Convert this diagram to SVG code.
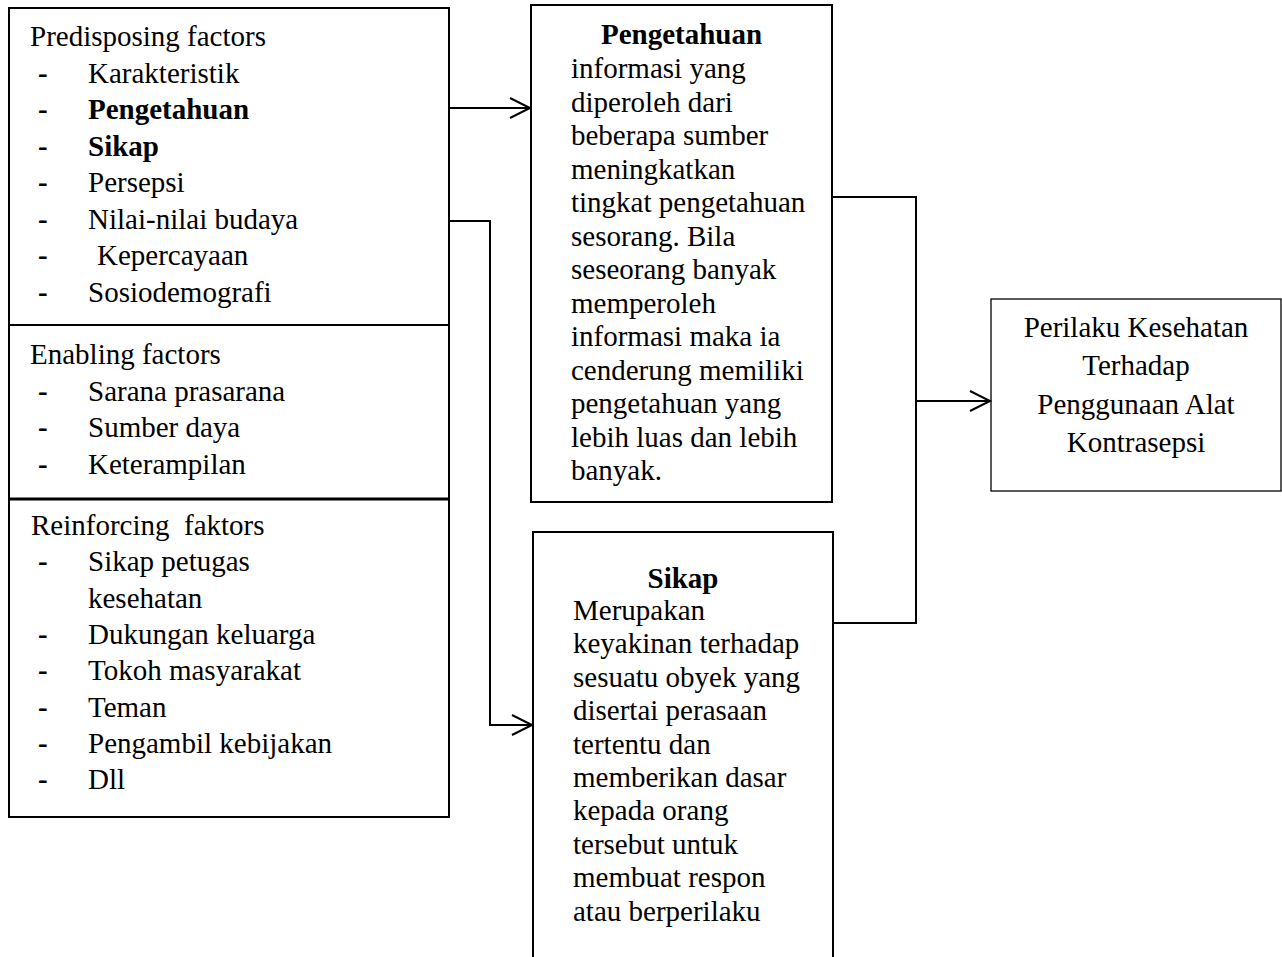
<svg xmlns="http://www.w3.org/2000/svg" width="1282" height="957" viewBox="0 0 1282 957">
<style>
text{font-family:"Liberation Serif","Times New Roman",serif;font-size:29px;fill:#000}
.b{font-weight:bold}
.c{text-anchor:middle}
.box{fill:#fff;stroke:#000;stroke-width:2}
.thin{fill:#fff;stroke:#000;stroke-width:1.3}
.con{fill:none;stroke:#000;stroke-width:2}
.pre{white-space:pre}
</style>
<defs>
<marker id="ah" markerUnits="userSpaceOnUse" markerWidth="24" markerHeight="24" refX="21" refY="11" orient="auto">
<path d="M1,1 L21,11 L1,21" fill="none" stroke="#000" stroke-width="2"/>
</marker>
</defs>
<rect width="1282" height="957" fill="#fff"/>
<g id="factors">
<rect class="box" x="9" y="8" width="440" height="809"/>
<line x1="9" y1="325" x2="449" y2="325" stroke="#000" stroke-width="2"/>
<line x1="9" y1="499" x2="449" y2="499" stroke="#000" stroke-width="3"/>
<text x="30" y="46">Predisposing factors</text>
<g class="b"><text x="38" y="82.5">-</text><text x="38" y="119">-</text><text x="38" y="155.5">-</text><text x="38" y="192">-</text><text x="38" y="228.5">-</text><text x="38" y="265">-</text><text x="38" y="301.5">-</text></g>
<text x="88" y="82.5">Karakteristik</text>
<text x="88" y="119" class="b">Pengetahuan</text>
<text x="88" y="155.5" class="b">Sikap</text>
<text x="88" y="192">Persepsi</text>
<text x="88" y="228.5">Nilai-nilai budaya</text>
<text x="97" y="265">Kepercayaan</text>
<text x="88" y="301.5">Sosiodemografi</text>
<text x="30" y="364">Enabling factors</text>
<g class="b"><text x="38" y="400.5">-</text><text x="38" y="437">-</text><text x="38" y="473.5">-</text></g>
<text x="88" y="400.5">Sarana prasarana</text>
<text x="88" y="437">Sumber daya</text>
<text x="88" y="473.5">Keterampilan</text>
<text x="31" y="535" class="pre">Reinforcing  faktors</text>
<g class="b"><text x="38" y="571">-</text><text x="38" y="644">-</text><text x="38" y="680">-</text><text x="38" y="716.5">-</text><text x="38" y="753">-</text><text x="38" y="789">-</text></g>
<text x="88" y="571">Sikap petugas</text>
<text x="88" y="607.5">kesehatan</text>
<text x="88" y="644">Dukungan keluarga</text>
<text x="88" y="680">Tokoh masyarakat</text>
<text x="88" y="716.5">Teman</text>
<text x="88" y="753">Pengambil kebijakan</text>
<text x="88" y="789">Dll</text>
</g>
<g id="pengetahuan">
<rect class="box" x="531" y="5" width="301" height="497"/>
<text x="681.5" y="44" class="b c">Pengetahuan</text>
<text x="571" y="78">informasi yang</text>
<text x="571" y="111.5">diperoleh dari</text>
<text x="571" y="145">beberapa sumber</text>
<text x="571" y="178.5">meningkatkan</text>
<text x="571" y="212">tingkat pengetahuan</text>
<text x="571" y="245.5">sesorang. Bila</text>
<text x="571" y="279">seseorang banyak</text>
<text x="571" y="312.5">memperoleh</text>
<text x="571" y="346">informasi maka ia</text>
<text x="571" y="379.5">cenderung memiliki</text>
<text x="571" y="413">pengetahuan yang</text>
<text x="571" y="446.5">lebih luas dan lebih</text>
<text x="571" y="480">banyak.</text>
</g>
<g id="sikap">
<rect class="box" x="533" y="532" width="300" height="440"/>
<text x="683" y="588" class="b c">Sikap</text>
<text x="573" y="620">Merupakan</text>
<text x="573" y="653.4">keyakinan terhadap</text>
<text x="573" y="686.8">sesuatu obyek yang</text>
<text x="573" y="720.2">disertai perasaan</text>
<text x="573" y="753.6">tertentu dan</text>
<text x="573" y="787">memberikan dasar</text>
<text x="573" y="820.4">kepada orang</text>
<text x="573" y="853.8">tersebut untuk</text>
<text x="573" y="887.2">membuat respon</text>
<text x="573" y="920.6">atau berperilaku</text>
</g>
<g id="perilaku">
<rect class="thin" x="991" y="299" width="290" height="192"/>
<text x="1136" y="337" class="c">Perilaku Kesehatan</text>
<text x="1136" y="375.3" class="c">Terhadap</text>
<text x="1136" y="413.6" class="c">Penggunaan Alat</text>
<text x="1136" y="452" class="c">Kontrasepsi</text>
</g>
<g id="connectors">
<line class="con" x1="449" y1="108" x2="530" y2="108" marker-end="url(#ah)"/>
<polyline class="con" points="449,221 490,221 490,725 532,725" marker-end="url(#ah)"/>
<polyline class="con" points="832,197 916,197 916,623 833,623"/>
<line class="con" x1="916" y1="401" x2="990" y2="401" marker-end="url(#ah)"/>
</g>
</svg>
